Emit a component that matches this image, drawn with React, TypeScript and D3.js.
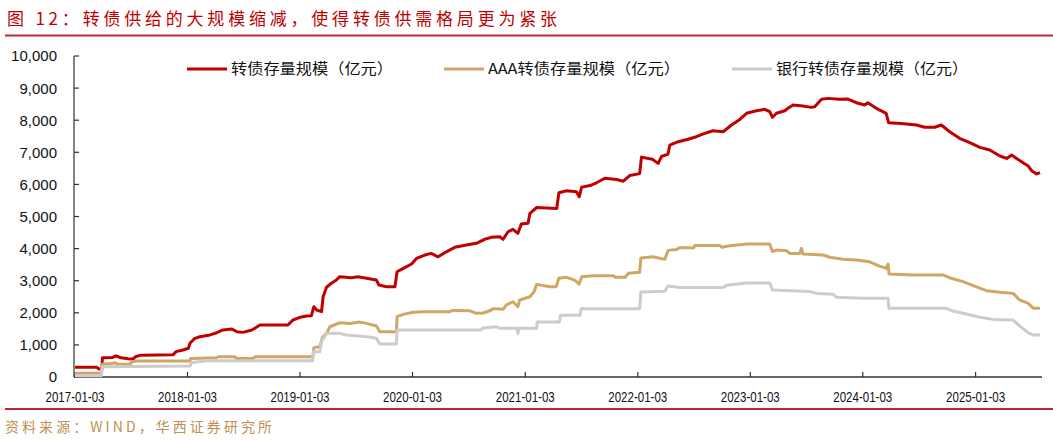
import React from "react";
import * as d3 from "d3";

// ---- Data ----
const titleText = "图 12：转债供给的大规模缩减，使得转债供需格局更为紧张";
const sourceText = "资料来源：WIND，华西证券研究所";
const seriesNames = ["转债存量规模（亿元）", "AAA转债存量规模（亿元）", "银行转债存量规模（亿元）"];
const xTickLabels = ["2017-01-03", "2018-01-03", "2019-01-03", "2020-01-03", "2021-01-03", "2022-01-03", "2023-01-03", "2024-01-03", "2025-01-03"];
const yTicks = [0, 1000, 2000, 3000, 4000, 5000, 6000, 7000, 8000, 9000, 10000];
const startDate = "2017-01-03";
const endDate = "2025-07-31";

const totalScale: [string, number][] = [
  ["2017-01-03", 300], ["2017-03-15", 300], ["2017-03-22", 250], ["2017-03-31", 250], ["2017-04-02", 600],
  ["2017-05-06", 610], ["2017-05-16", 660], ["2017-06-01", 600], ["2017-06-24", 570], ["2017-07-10", 560],
  ["2017-07-20", 640], ["2017-08-05", 680], ["2017-11-17", 690], ["2017-11-27", 790], ["2017-12-19", 840],
  ["2018-01-06", 895], ["2018-01-11", 1050], ["2018-01-27", 1205], ["2018-02-12", 1255], ["2018-03-17", 1310],
  ["2018-04-08", 1380], ["2018-04-28", 1465], ["2018-05-27", 1495], ["2018-06-12", 1410], ["2018-07-02", 1390],
  ["2018-07-31", 1465], ["2018-08-26", 1620], ["2018-11-25", 1620], ["2018-12-11", 1775], ["2019-01-03", 1860],
  ["2019-01-25", 1900], ["2019-02-09", 1910], ["2019-02-17", 2190], ["2019-02-26", 2087], ["2019-03-14", 2035],
  ["2019-03-19", 2500], ["2019-03-30", 2795], ["2019-04-15", 2920], ["2019-05-01", 3020], ["2019-05-12", 3125],
  ["2019-06-19", 3095], ["2019-07-10", 3125], ["2019-08-07", 3075], ["2019-09-08", 3020], ["2019-09-16", 2865],
  ["2019-10-11", 2810], ["2019-11-07", 2810], ["2019-11-14", 3280], ["2019-12-04", 3385], ["2019-12-31", 3520],
  ["2020-01-16", 3695], ["2020-02-12", 3800], ["2020-03-04", 3850], ["2020-03-26", 3745], ["2020-04-22", 3900],
  ["2020-05-19", 4040], ["2020-06-26", 4110], ["2020-07-28", 4165], ["2020-08-24", 4290], ["2020-09-15", 4350],
  ["2020-10-12", 4370], ["2020-10-23", 4290], ["2020-11-08", 4525], ["2020-11-24", 4600], ["2020-12-10", 4475],
  ["2020-12-21", 4765], ["2021-01-12", 4790], ["2021-01-18", 5100], ["2021-02-09", 5280], ["2021-04-15", 5250],
  ["2021-04-22", 5740], ["2021-05-17", 5800], ["2021-06-18", 5770], ["2021-06-27", 5615], ["2021-07-05", 5915],
  ["2021-08-01", 5965], ["2021-08-22", 6050], ["2021-09-18", 6190], ["2021-10-26", 6155], ["2021-11-17", 6100],
  ["2021-12-08", 6275], ["2022-01-09", 6335], ["2022-01-15", 6850], ["2022-02-19", 6785], ["2022-03-10", 6655],
  ["2022-03-21", 6870], ["2022-04-11", 6945], ["2022-04-17", 7225], ["2022-05-14", 7330], ["2022-06-15", 7405],
  ["2022-07-12", 7485], ["2022-08-08", 7590], ["2022-09-04", 7670], ["2022-10-07", 7640], ["2022-11-03", 7850],
  ["2022-11-30", 8025], ["2022-12-22", 8215], ["2023-01-23", 8295], ["2023-02-19", 8340], ["2023-03-07", 8265],
  ["2023-03-16", 8090], ["2023-03-29", 8215], ["2023-04-25", 8295], ["2023-05-05", 8370], ["2023-05-22", 8475],
  ["2023-06-23", 8440], ["2023-07-20", 8400], ["2023-07-31", 8420], ["2023-08-22", 8650], ["2023-09-12", 8680],
  ["2023-10-20", 8650], ["2023-11-16", 8660], ["2023-12-13", 8545], ["2024-01-09", 8475], ["2024-01-19", 8545],
  ["2024-02-16", 8370], ["2024-03-19", 8215], ["2024-03-27", 7920], ["2024-05-07", 7900], ["2024-06-25", 7850],
  ["2024-07-22", 7780], ["2024-08-23", 7780], ["2024-09-14", 7850], ["2024-10-11", 7640], ["2024-11-12", 7435],
  ["2024-12-15", 7300], ["2025-01-17", 7155], ["2025-02-18", 7070], ["2025-03-23", 6885], ["2025-04-14", 6810],
  ["2025-04-30", 6915], ["2025-05-16", 6810], ["2025-06-06", 6675], ["2025-06-23", 6570], ["2025-07-04", 6425],
  ["2025-07-20", 6325], ["2025-07-31", 6365],
];

const aaaScale: [string, number][] = [
  ["2017-01-03", 115], ["2017-03-30", 115], ["2017-04-01", 395], ["2017-05-06", 425], ["2017-05-13", 445],
  ["2017-05-22", 400], ["2017-06-30", 400], ["2017-07-06", 465], ["2017-07-22", 500], ["2018-01-11", 500],
  ["2018-01-13", 580], ["2018-04-07", 600], ["2018-04-13", 630], ["2018-06-06", 630], ["2018-06-11", 580],
  ["2018-08-04", 580], ["2018-08-10", 630], ["2019-02-14", 630], ["2019-02-17", 915], ["2019-03-08", 945],
  ["2019-03-17", 1235], ["2019-03-30", 1360], ["2019-04-10", 1565], ["2019-05-12", 1690], ["2019-06-13", 1670],
  ["2019-07-16", 1710], ["2019-08-07", 1670], ["2019-09-08", 1590], ["2019-09-19", 1410], ["2019-11-12", 1410],
  ["2019-11-14", 1880], ["2019-12-04", 1950], ["2020-01-05", 2015], ["2020-02-06", 2035], ["2020-05-03", 2035],
  ["2020-05-13", 2075], ["2020-07-06", 2065], ["2020-07-28", 1985], ["2020-08-19", 1995], ["2020-09-10", 2065],
  ["2020-09-21", 2130], ["2020-10-23", 2110], ["2020-11-03", 2245], ["2020-11-24", 2345], ["2020-12-10", 2190],
  ["2020-12-16", 2400], ["2021-01-18", 2500], ["2021-01-31", 2650], ["2021-02-09", 2885], ["2021-03-24", 2810],
  ["2021-04-13", 2810], ["2021-04-22", 3075], ["2021-05-17", 3105], ["2021-06-12", 3020], ["2021-06-27", 2895],
  ["2021-07-05", 3125], ["2021-08-12", 3155], ["2021-10-16", 3155], ["2021-10-22", 3105], ["2021-11-23", 3105],
  ["2021-12-04", 3230], ["2022-01-09", 3260], ["2022-01-13", 3710], ["2022-02-21", 3745], ["2022-04-01", 3665],
  ["2022-04-11", 3945], ["2022-05-09", 3975], ["2022-05-19", 4030], ["2022-07-04", 4030], ["2022-07-07", 4100],
  ["2022-09-26", 4100], ["2022-10-02", 4040], ["2022-10-23", 4080], ["2022-12-22", 4140], ["2023-03-07", 4140],
  ["2023-03-16", 3910], ["2023-03-29", 3955], ["2023-05-01", 3935], ["2023-05-11", 3850], ["2023-06-13", 3850],
  ["2023-06-18", 4010], ["2023-06-23", 3830], ["2023-08-27", 3800], ["2023-09-18", 3730], ["2023-10-31", 3665],
  ["2023-12-13", 3645], ["2024-01-25", 3590], ["2024-02-26", 3455], ["2024-03-19", 3385], ["2024-03-25", 3520],
  ["2024-03-28", 3210], ["2024-06-14", 3180], ["2024-09-19", 3180], ["2024-10-16", 3075], ["2024-11-23", 2970],
  ["2025-01-06", 2810], ["2025-02-07", 2690], ["2025-03-23", 2640], ["2025-05-05", 2605], ["2025-05-26", 2400],
  ["2025-06-23", 2295], ["2025-07-09", 2140], ["2025-07-31", 2140],
];

const bankScale: [string, number][] = [
  ["2017-01-03", 40], ["2017-03-30", 40], ["2017-04-01", 320], ["2018-01-11", 340], ["2018-01-16", 445],
  ["2018-02-07", 475], ["2018-03-17", 510], ["2019-02-13", 510], ["2019-02-15", 790], ["2019-03-08", 790],
  ["2019-03-14", 1100], ["2019-03-30", 1360], ["2019-05-12", 1360], ["2019-06-03", 1310], ["2019-08-07", 1255],
  ["2019-09-08", 1205], ["2019-09-19", 1030], ["2019-11-12", 1030], ["2019-11-14", 1465], ["2020-08-12", 1465],
  ["2020-08-19", 1530], ["2020-10-01", 1565], ["2020-10-12", 1520], ["2020-12-06", 1520], ["2020-12-10", 1360],
  ["2020-12-14", 1520], ["2021-02-09", 1520], ["2021-02-11", 1710], ["2021-04-24", 1710], ["2021-04-27", 1920],
  ["2021-06-30", 1920], ["2021-07-03", 2130], ["2022-01-09", 2130], ["2022-01-13", 2650], ["2022-04-01", 2670],
  ["2022-04-11", 2835], ["2022-05-19", 2790], ["2022-10-07", 2790], ["2022-10-18", 2855], ["2022-12-22", 2925],
  ["2023-03-07", 2925], ["2023-03-16", 2710], ["2023-05-11", 2690], ["2023-07-15", 2660], ["2023-08-06", 2605],
  ["2023-09-29", 2575], ["2023-10-10", 2485], ["2024-01-03", 2450], ["2024-03-25", 2450], ["2024-03-28", 2140],
  ["2024-09-30", 2140], ["2024-10-22", 2055], ["2024-12-04", 1960], ["2025-01-17", 1860], ["2025-03-01", 1795],
  ["2025-05-05", 1775], ["2025-05-26", 1590], ["2025-06-26", 1360], ["2025-07-09", 1310], ["2025-07-31", 1310],
];

const seriesColors = ["#c00000", "#d0a664", "#cccccc"];

// ---- Layout ----
const W = 1053;
const H = 442;
const parse = d3.timeParse("%Y-%m-%d");

export default function App() {
  const x = d3.scaleTime()
    .domain([parse(startDate) as Date, parse(endDate) as Date])
    .range([75, 1040]);
  const y = d3.scaleLinear().domain([0, 10000]).range([377, 56]);
  const line = d3.line<[string, number]>()
    .x((d) => x(parse(d[0]) as Date))
    .y((d) => y(d[1]));
  const allSeries = [totalScale, aaaScale, bankScale];
  const fmt = d3.format(",");
  const font = "'Liberation Sans', Arial, sans-serif";
  const cjk = "'Noto Sans CJK SC', sans-serif";

  const legendX = [187, 444, 732];
  const legendTextW = [162, 192, 192];

  return (
    <svg width={W} height={H} style={{ position: "absolute", left: 0, top: 0, background: "#fff" }}>
      {/* Title */}
      <text x={7} y={25} fill="#c00000" fontFamily={cjk} fontSize={17} textLength={550} lengthAdjust="spacing">
        {titleText}
      </text>
      <line x1={5} x2={1053} y1={35.5} y2={35.5} stroke="#c0262d" strokeWidth={2} />

      {/* Y axis */}
      <line x1={74} x2={74} y1={y(10000)} y2={y(0)} stroke="#333" strokeWidth={1.2} />
      {yTicks.map((t) => (
        <g key={t}>
          <line x1={74} x2={79} y1={y(t)} y2={y(t)} stroke="#333" strokeWidth={1.2} />
          <text x={57} y={y(t)} dy="0.36em" textAnchor="end" fontFamily={font} fontSize={15} fill="#111">
            {fmt(t)}
          </text>
        </g>
      ))}

      {/* X axis */}
      <line x1={74} x2={1042} y1={377} y2={377} stroke="#333" strokeWidth={1.5} />
      {xTickLabels.map((t) => {
        const xx = x(parse(t) as Date);
        return (
          <g key={t}>
            <line x1={xx} x2={xx} y1={377} y2={372} stroke="#333" strokeWidth={1.2} />
            <text x={xx} y={402} textAnchor="middle" fontFamily={font} fontSize={15.5} fill="#111" textLength={59} lengthAdjust="spacingAndGlyphs">
              {t}
            </text>
          </g>
        );
      })}

      {/* Lines */}
      {allSeries.map((s, i) => (
        <path key={i} d={line(s) || ""} fill="none" stroke={seriesColors[i]} strokeWidth={3} strokeLinejoin="round" />
      ))}

      {/* Legend */}
      {seriesNames.map((n, i) => (
        <g key={n}>
          <line x1={legendX[i]} x2={legendX[i] + 40} y1={69} y2={69} stroke={seriesColors[i]} strokeWidth={3} />
          <text x={legendX[i] + 44} y={69} dy="0.36em" fontFamily={cjk} fontSize={15} fill="#111" textLength={legendTextW[i]} lengthAdjust="spacingAndGlyphs">
            {n}
          </text>
        </g>
      ))}

      {/* Footer */}
      <line x1={5} x2={1053} y1={409} y2={409} stroke="#c0262d" strokeWidth={2} />
      <text x={5} y={432} fill="#c09050" fontFamily={cjk} fontSize={14} textLength={267} lengthAdjust="spacing">
        {sourceText}
      </text>
    </svg>
  );
}
